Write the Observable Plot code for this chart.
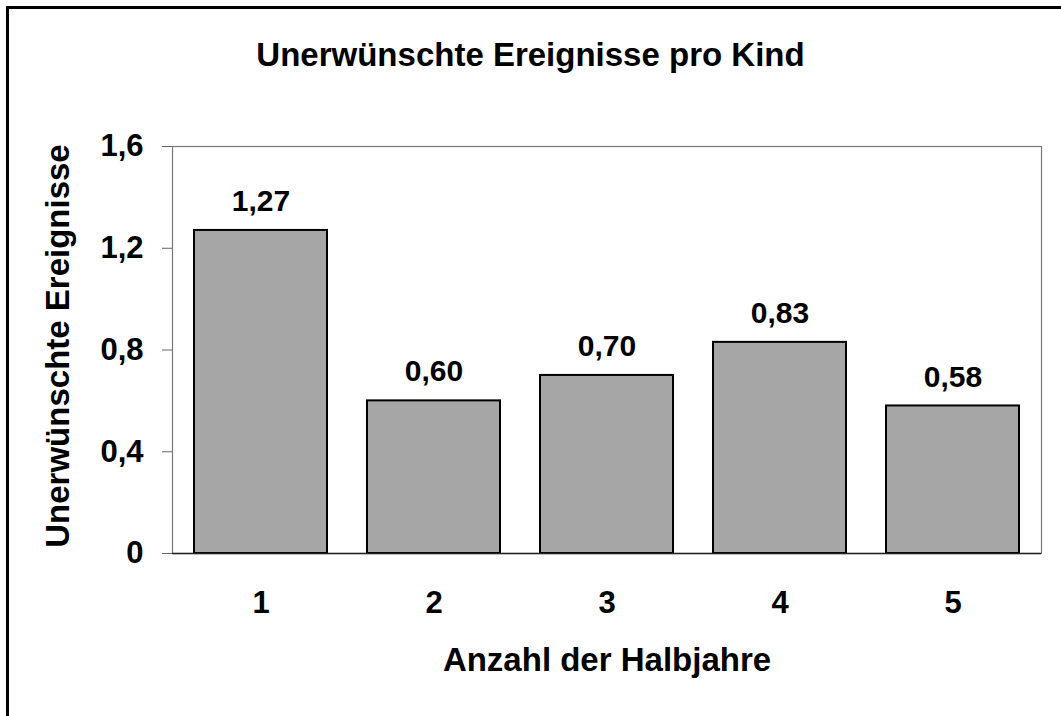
<!DOCTYPE html>
<html>
<head>
<meta charset="utf-8">
<script src="https://cdn.jsdelivr.net/npm/d3@7"></script>
<script src="https://cdn.jsdelivr.net/npm/@observablehq/plot@0.6"></script>
<style>
  html, body { margin: 0; padding: 0; background: #fff; }
  #wrap { position: relative; width: 1061px; height: 716px; overflow: hidden; background: #fff;
          font-family: "Liberation Sans", Arial, sans-serif; }
  #border { position: absolute; left: 6px; top: 6px; width: 1100px; height: 800px;
            border-left: 3px solid #000; border-top: 3px solid #000; }
  #title { position: absolute; left: 0; width: 1061px; top: 38px; text-align: center;
           font-size: 33px; line-height: 33px; font-weight: bold; color: #000; }
  #chart { position: absolute; left: 0; top: 100px; }
  #chart svg text { font-weight: bold; }
</style>
</head>
<body>
<div id="wrap">
  <div id="border"></div>
  <div id="title"></div>
  <div id="chart"></div>
</div>
<script>
const titleText = "Unerwünschte Ereignisse pro Kind";
const xTitle = "Anzahl der Halbjahre";
const yTitle = "Unerwünschte Ereignisse";
const categories = ["1", "2", "3", "4", "5"];
const values = [1.27, 0.60, 0.70, 0.83, 0.58];
const valueLabels = ["1,27", "0,60", "0,70", "0,83", "0,58"];
const yTicks = [0, 0.4, 0.8, 1.2, 1.6];
const yTickLabels = ["0", "0,4", "0,8", "1,2", "1,6"];

document.getElementById("title").textContent = titleText;

const data = categories.map((c, i) => ({c, v: values[i], label: valueLabels[i]}));

const chart = Plot.plot({
  width: 1061,
  height: 616,
  marginTop: 46,
  marginRight: 20,
  marginBottom: 163,
  marginLeft: 172,
  style: {
    fontFamily: "'Liberation Sans', Arial, sans-serif",
    fontWeight: "bold",
    color: "#000",
    background: "transparent",
    overflow: "visible"
  },
  x: {domain: categories, paddingInner: 0.2308, paddingOuter: 0.1154, axis: null},
  y: {domain: [0, 1.6], axis: null},
  marks: [
    Plot.frame({stroke: "#777", strokeWidth: 1.2}),
    Plot.barY(data, {x: "c", y: "v", fill: "#a6a6a6", stroke: "#000", strokeWidth: 2}),
    Plot.ruleY([0], {stroke: "#222", strokeWidth: 1.5}),
    Plot.axisY({
      ticks: yTicks,
      tickFormat: d => yTickLabels[yTicks.indexOf(d)],
      tickSize: 10,
      tickPadding: 19,
      stroke: "#666",
      fill: "#000",
      fontSize: 31,
      label: null
    }),
    Plot.axisX({
      tickSize: 0,
      tickPadding: 37,
      fill: "#000",
      fontSize: 31,
      label: null
    }),
    Plot.text(data, {x: "c", y: "v", text: "label", dy: -29, fontSize: 30, lineAnchor: "middle", fill: "#000"}),
    Plot.text([xTitle], {frameAnchor: "bottom", text: d => d, dy: 107, fontSize: 33, lineAnchor: "middle", textAnchor: "middle", fill: "#000"}),
    Plot.text([yTitle], {frameAnchor: "left", text: d => d, rotate: -90, dx: -114, dy: -4, fontSize: 33, lineAnchor: "middle", textAnchor: "middle", fill: "#000"})
  ]
});
document.getElementById("chart").appendChild(chart);
</script>
</body>
</html>
